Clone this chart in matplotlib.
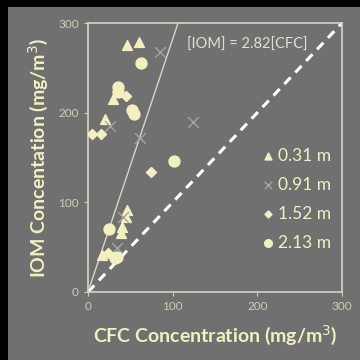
import matplotlib
matplotlib.use("Agg")
import matplotlib.pyplot as plt
from matplotlib.patches import Rectangle

# depth -> (CFC, IOM) pairs in mg/m3
cfc_031 = [45.7, 60.6, 29.9, 20.1, 45.7, 45.0, 39.8, 38.6, 16.1]
iom_031 = [275.6, 278.6, 215.0, 192.6, 91.5, 84.0, 72.8, 65.4, 41.3]

cfc_091 = [85.0, 123.6, 61.4, 26.0, 33.9, 41.7]
iom_091 = [268.0, 190.0, 171.4, 185.0, 48.7, 84.0]

cfc_152 = [4.3, 15.0, 44.5, 74.4, 24.0]
iom_152 = [175.8, 176.0, 218.6, 133.4, 43.8]

cfc_213 = [62.2, 35.0, 35.8, 51.6, 54.3, 102.0, 24.8, 31.9, 34.5]
iom_213 = [255.7, 228.3, 223.4, 203.0, 198.5, 146.4, 69.9, 37.5, 39.0]

slope = 2.82

BG = "#707070"
CREAM = "#f3f0c0"
TICKC = "#cfcdb4"
LINEC = "#d8d6c4"

fig = plt.figure(figsize=(3.6, 3.6), dpi=100, facecolor=BG)
fig.patches.append(Rectangle((0, 0), 8 / 360, 1, transform=fig.transFigure,
                             facecolor="black", edgecolor="none"))
fig.patches.append(Rectangle((0, 1 - 7 / 360), 1, 7 / 360, transform=fig.transFigure,
                             facecolor="black", edgecolor="none"))

ax = fig.add_axes([88 / 360, 68 / 360, 254 / 360, 269 / 360])
ax.set_facecolor(BG)

ax.plot([0, 300], [0, 300], color="white", lw=2.2, ls=(0, (3, 2.2)), zorder=2)
ax.plot([2, 300 / slope], [2 * slope, 300], color=LINEC, lw=1.0, zorder=2)

ax.scatter(cfc_031, iom_031, marker="^", s=50, color=CREAM, label="0.31 m", zorder=3)
ax.scatter(cfc_091, iom_091, marker="x", s=60, color="#a4a4a4", linewidths=1.0,
           label="0.91 m", zorder=3)
ax.scatter(cfc_152, iom_152, marker="D", s=26, color=CREAM, label="1.52 m", zorder=3)
ax.scatter(cfc_213, iom_213, marker="o", s=62, color=CREAM, label="2.13 m", zorder=3)

ax.text(188, 276, "[IOM] = 2.82[CFC]", ha="center", va="center",
        color="#e2e0d2", fontsize=10.5, family="Lato")

ax.set_xlim(0, 300)
ax.set_ylim(0, 300)
ax.set_xticks([0, 100, 200, 300])
ax.set_yticks([0, 100, 200, 300])
ax.tick_params(colors=TICKC, labelcolor=TICKC, labelsize=8.5, length=3, width=0.8)
for lab in ax.get_xticklabels() + ax.get_yticklabels():
    lab.set_family("Lato")
for sp in ax.spines.values():
    sp.set_color(LINEC)
    sp.set_linewidth(1.2)

ax.set_xlabel("CFC Concentration (mg/m$^3$)", color=CREAM, fontsize=14,
              fontweight="bold", family="Lato", labelpad=8)
ax.set_ylabel("IOM Concentation (mg/m$^3$)", color=CREAM, fontsize=14,
              fontweight="bold", family="Lato", labelpad=6)

leg = ax.legend(loc="center right", bbox_to_anchor=(1.02, 0.345), frameon=False,
                prop={"family": "Lato", "size": 12.5}, labelcolor=CREAM,
                handletextpad=0.1, labelspacing=0.75, handlelength=1.0,
                markerscale=0.7)

fig.savefig("out.png", dpi=100, facecolor=BG)
